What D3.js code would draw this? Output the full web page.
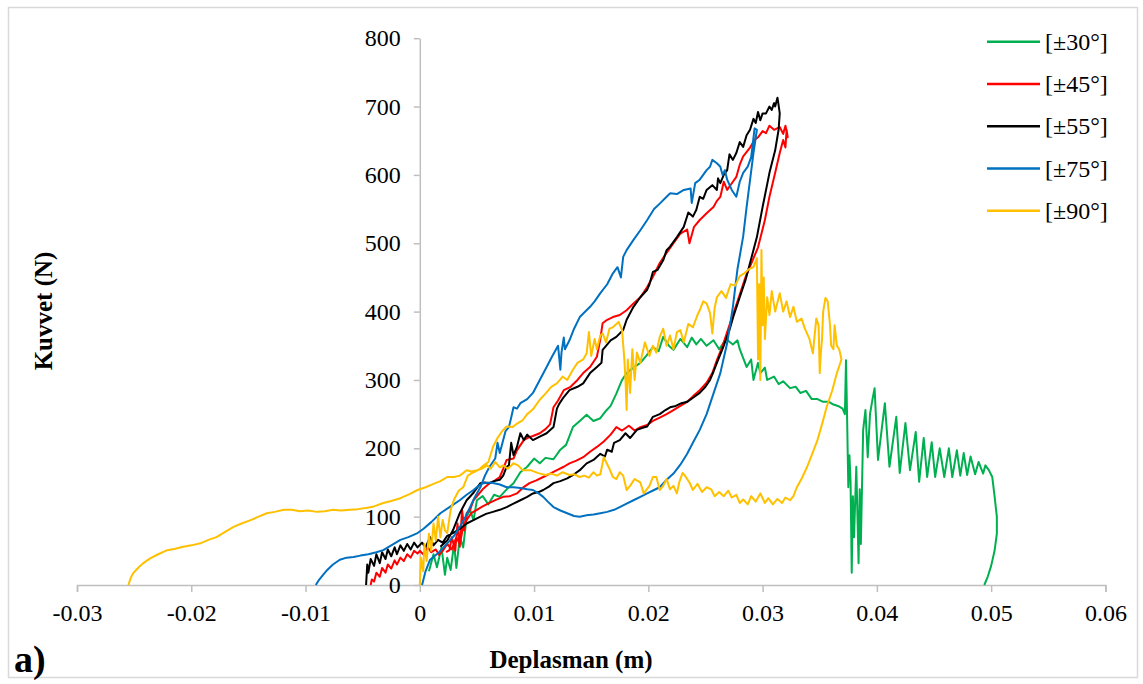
<!DOCTYPE html>
<html>
<head>
<meta charset="utf-8">
<title>Kuvvet - Deplasman</title>
<style>
    body { margin: 0; background: #fff; }
    svg { display: block; font-family: "Liberation Serif", "Times New Roman", serif; }
    .frame { fill: #fff; stroke: #d9d9d9; stroke-width: 1.5px; }
    .axis path, .axis line { stroke: #bfbfbf; stroke-width: 1.5px; }
    .axis text { font-size: 24px; fill: #000; font-family: "Liberation Serif", serif; }
    .series { fill: none; stroke-width: 2px; stroke-linejoin: round; }
    .title { font-size: 25px; font-weight: bold; }
    .legend text { font-size: 24px; }
</style>
</head>
<body>
<svg id="container" width="1143" height="684"></svg>
<script src="https://cdn.jsdelivr.net/npm/d3@7"></script>
<script>
// series names and colours (legend order = drawing order)
const names = ["[±30°]", "[±45°]", "[±55°]", "[±75°]", "[±90°]"]
const colors = ["#00b050", "#ff0000", "#000000", "#0070c0", "#ffc000"]

const xTicks = [-0.03, -0.02, -0.01, 0, 0.01, 0.02, 0.03, 0.04, 0.05, 0.06]
const xTickLabels = ["-0.03", "-0.02", "-0.01", "0", "0.01", "0.02", "0.03", "0.04", "0.05", "0.06"]
const yTicks = [0, 100, 200, 300, 400, 500, 600, 700, 800]

// [deplasman (m), kuvvet (N)]
const s30 = [[0.0008,20],[0.0012,45],[0.0015,26],[0.0019,55],[0.0022,15],[0.0024,40],[0.0027,22],[0.0030,60],[0.0032,25],[0.0035,70],[0.0038,55],[0.0041,100],[0.0044,110],[0.0047,95],[0.005,124],[0.0055,130],[0.006,118],[0.0065,132],[0.007,129],[0.0076,140],[0.0082,149],[0.0088,165],[0.0094,173],[0.01,185],[0.0105,178],[0.011,186],[0.0117,184],[0.0123,198],[0.0128,205],[0.0134,231],[0.014,240],[0.0146,249],[0.0152,240],[0.0158,244],[0.0163,255],[0.0167,262],[0.0172,280],[0.0177,300],[0.0181,310],[0.0187,318],[0.0193,325],[0.0198,335],[0.0204,348],[0.0209,342],[0.0213,363],[0.0218,350],[0.0222,344],[0.0228,360],[0.0234,348],[0.0238,362],[0.0242,352],[0.0246,360],[0.0251,350],[0.0257,358],[0.0262,345],[0.0268,360],[0.0274,352],[0.0278,358],[0.028,345],[0.0286,319],[0.029,330],[0.0292,300],[0.0296,325],[0.0298,310],[0.0302,318],[0.0304,300],[0.031,305],[0.0314,294],[0.0318,298],[0.0324,288],[0.0329,290],[0.0333,281],[0.0338,284],[0.0343,272],[0.0348,272],[0.0353,268],[0.0358,268],[0.0362,264],[0.0366,262],[0.037,258],[0.0372,250],[0.0373,329],[0.0374,240],[0.0375,143],[0.0376,190],[0.0377,150],[0.0378,18],[0.0379,130],[0.038,70],[0.0382,173],[0.0384,32],[0.0385,140],[0.0386,60],[0.0388,227],[0.039,256],[0.0392,187],[0.0394,250],[0.0396,270],[0.0398,288],[0.0401,183],[0.0407,266],[0.0411,173],[0.0417,246],[0.042,164],[0.0425,237],[0.0429,168],[0.0434,224],[0.0437,151],[0.0441,215],[0.0444,158],[0.0448,209],[0.0451,158],[0.0455,200],[0.0459,158],[0.0463,200],[0.0466,158],[0.047,197],[0.0473,160],[0.0476,193],[0.0479,161],[0.0482,188],[0.0486,162],[0.0489,180],[0.0493,163],[0.0495,175],[0.0498,168],[0.0501,158],[0.0503,130],[0.0505,100],[0.0505,75],[0.0503,50],[0.05,28],[0.0497,12],[0.0494,0]]

const s45 = [[-0.0043,0],[-0.0042,8],[-0.004,5],[-0.0038,18],[-0.0035,12],[-0.0033,25],[-0.003,18],[-0.0028,30],[-0.0025,24],[-0.0022,36],[-0.002,30],[-0.0017,40],[-0.0014,35],[-0.0011,45],[-0.0008,40],[-0.0005,50],[-0.0002,46],[0,50],[0.0003,45],[0.0007,55],[0.001,48],[0.0014,52],[0.0017,44],[0.002,50],[0.0024,60],[0.0028,52],[0.0032,70],[0.0035,60],[0.0038,85],[0.0041,95],[0.0045,105],[0.005,110],[0.0055,115],[0.0061,120],[0.0067,125],[0.0073,129],[0.0079,130],[0.0085,134],[0.009,142],[0.0096,149],[0.0102,153],[0.0108,158],[0.0114,163],[0.012,168],[0.0126,173],[0.0131,178],[0.0137,182],[0.0143,187],[0.0149,195],[0.0155,202],[0.0161,210],[0.0167,220],[0.0172,231],[0.0177,226],[0.0183,233],[0.0188,226],[0.0193,231],[0.0199,234],[0.0204,240],[0.021,245],[0.0216,250],[0.0222,256],[0.0228,262],[0.0234,268],[0.0239,276],[0.0245,285],[0.0251,296],[0.0256,310],[0.026,329],[0.0265,350],[0.027,375],[0.0275,400],[0.028,425],[0.0285,450],[0.029,470],[0.0296,494],[0.0302,534],[0.0306,568],[0.0311,603],[0.0315,632],[0.0318,651],[0.032,640],[0.0321,666],[0.0322,655],[0.032,672],[0.0318,660],[0.0315,670],[0.031,666],[0.0306,672],[0.0303,661],[0.03,664],[0.0296,655],[0.0293,651],[0.0289,640],[0.0283,627],[0.028,615],[0.0277,597],[0.0274,590],[0.0269,578],[0.0266,590],[0.0264,575],[0.0263,568],[0.026,562],[0.0257,553],[0.0251,544],[0.0245,534],[0.024,524],[0.0236,500],[0.0234,520],[0.0228,514],[0.0222,500],[0.0216,486],[0.021,471],[0.0204,451],[0.0199,436],[0.0193,421],[0.0187,412],[0.0181,402],[0.0175,395],[0.0169,392],[0.0164,388],[0.016,383],[0.0158,360],[0.0155,334],[0.0149,319],[0.0143,310],[0.0138,300],[0.0132,290],[0.0126,285],[0.0121,270],[0.0117,260],[0.0114,235],[0.011,228],[0.0105,222],[0.0099,218],[0.0094,215],[0.0091,212],[0.0085,197],[0.0082,185],[0.0076,183],[0.0073,170],[0.007,158],[0.0065,152],[0.0061,149],[0.0055,140],[0.0047,124],[0.0044,110],[0.0041,105],[0.0039,80],[0.0037,110],[0.0035,56],[0.0033,90],[0.0031,50],[0.0028,70],[0.0026,51],[0.0023,48]]

const s55 = [[-0.0047,0],[-0.0046,30],[-0.0045,18],[-0.0043,38],[-0.004,28],[-0.0038,45],[-0.0035,32],[-0.0033,48],[-0.003,38],[-0.0028,52],[-0.0025,42],[-0.0022,55],[-0.002,45],[-0.0017,58],[-0.0014,50],[-0.0011,60],[-0.0008,52],[-0.0005,62],[-0.0002,55],[0.0002,62],[0.0005,55],[0.0009,70],[0.0012,58],[0.0016,66],[0.002,62],[0.0024,72],[0.0029,76],[0.0035,82],[0.0041,90],[0.0047,95],[0.0053,100],[0.0058,104],[0.0064,107],[0.007,110],[0.0076,114],[0.0082,119],[0.0088,124],[0.0094,129],[0.0099,134],[0.0104,136],[0.0108,139],[0.0113,144],[0.0117,149],[0.0123,152],[0.0129,156],[0.0135,162],[0.014,168],[0.0146,178],[0.0152,183],[0.0158,192],[0.0162,188],[0.0164,198],[0.0168,195],[0.017,208],[0.0175,212],[0.018,222],[0.0184,215],[0.019,227],[0.0195,230],[0.0199,232],[0.0204,246],[0.021,250],[0.0215,256],[0.0219,260],[0.0224,262],[0.0229,266],[0.0234,268],[0.024,275],[0.0245,281],[0.025,290],[0.0254,300],[0.0257,312],[0.026,325],[0.0266,350],[0.0271,373],[0.0275,396],[0.028,421],[0.0285,446],[0.0289,471],[0.0295,509],[0.03,553],[0.0306,603],[0.0311,636],[0.0314,666],[0.0315,690],[0.0314,702],[0.0313,713],[0.0311,700],[0.031,705],[0.0308,695],[0.0306,700],[0.0303,690],[0.03,690],[0.0298,680],[0.0296,692],[0.0294,676],[0.0292,682],[0.0289,666],[0.0286,658],[0.0283,641],[0.028,648],[0.0277,632],[0.0274,622],[0.0271,630],[0.0269,607],[0.0266,600],[0.0263,588],[0.0261,595],[0.026,578],[0.0256,585],[0.0251,578],[0.0248,565],[0.0245,568],[0.0242,549],[0.0239,539],[0.0235,545],[0.0231,524],[0.0225,509],[0.0219,495],[0.0216,490],[0.0213,475],[0.0208,461],[0.0204,458],[0.0201,440],[0.0199,432],[0.0193,421],[0.0187,407],[0.0181,388],[0.0178,373],[0.0172,363],[0.0167,358],[0.0163,350],[0.016,344],[0.0159,325],[0.0155,319],[0.0149,310],[0.0143,295],[0.0138,290],[0.0131,285],[0.0126,275],[0.0122,265],[0.012,258],[0.0118,240],[0.0117,231],[0.0111,222],[0.0105,217],[0.0099,212],[0.0094,220],[0.0091,212],[0.0088,222],[0.0085,202],[0.0082,190],[0.008,208],[0.0078,175],[0.0076,173],[0.0073,160],[0.007,154],[0.0065,152],[0.0061,149],[0.0057,150],[0.0053,149],[0.0047,135],[0.0041,124],[0.0035,105],[0.0029,80],[0.0024,65],[0.0018,56]]

const s75 = [[-0.0091,0],[-0.0088,8],[-0.0085,14],[-0.0081,22],[-0.0076,30],[-0.007,37],[-0.0064,40],[-0.0058,41],[-0.0052,43],[-0.0045,45],[-0.0038,48],[-0.0032,51],[-0.0025,58],[-0.0017,66],[-0.001,70],[-0.0002,76],[0.0003,82],[0.001,92],[0.0018,105],[0.0026,114],[0.0035,124],[0.0041,132],[0.0047,139],[0.0052,146],[0.0056,149],[0.0062,150],[0.007,147],[0.0076,143],[0.0082,143],[0.0088,142],[0.0094,140],[0.0099,139],[0.0104,134],[0.0108,129],[0.0112,122],[0.0117,114],[0.0123,109],[0.0129,105],[0.0135,101],[0.014,100],[0.0146,102],[0.0152,103],[0.0158,105],[0.0164,107],[0.017,110],[0.0175,114],[0.0181,119],[0.0187,124],[0.0193,129],[0.0199,134],[0.0205,139],[0.021,143],[0.0216,154],[0.0222,163],[0.0228,176],[0.0234,192],[0.0239,208],[0.0245,227],[0.0251,250],[0.0257,280],[0.0263,310],[0.0269,354],[0.0274,407],[0.0278,462],[0.0283,510],[0.0286,553],[0.0292,632],[0.0295,666],[0.0293,668],[0.0291,640],[0.029,626],[0.0287,612],[0.0283,603],[0.028,590],[0.0277,568],[0.0273,578],[0.0269,593],[0.0267,607],[0.0265,600],[0.0263,612],[0.026,617],[0.0256,622],[0.0254,612],[0.0251,607],[0.0248,600],[0.0245,593],[0.0241,588],[0.0238,559],[0.0237,580],[0.0231,578],[0.0225,572],[0.0219,573],[0.0216,568],[0.021,558],[0.0205,550],[0.0199,534],[0.0193,519],[0.0187,505],[0.0181,490],[0.0178,480],[0.0176,450],[0.0173,465],[0.0169,456],[0.0164,440],[0.0158,427],[0.0153,415],[0.0149,407],[0.014,392],[0.0135,375],[0.0131,358],[0.0127,345],[0.0126,362],[0.0124,340],[0.0123,315],[0.0121,350],[0.0116,335],[0.0111,319],[0.0105,300],[0.0099,281],[0.0094,272],[0.0088,266],[0.0085,258],[0.0082,260],[0.008,245],[0.0078,231],[0.0075,225],[0.0073,212],[0.007,193],[0.0068,208],[0.0066,185],[0.0061,173],[0.0057,160],[0.0053,143],[0.0048,128],[0.0044,114],[0.004,100],[0.0035,85],[0.003,72],[0.0024,61],[0.0017,48],[0.0009,37],[0.0005,20],[0.0002,0]]

const s90 = [[0,0],[0.0001,40],[0.0003,20],[0.0004,60],[0.0006,35],[0.0008,75],[0.001,50],[0.0012,90],[0.0014,65],[0.0016,100],[0.0018,70],[0.002,95],[0.0022,80],[0.0024,76],[0.0027,110],[0.003,125],[0.0034,138],[0.0038,143],[0.0042,160],[0.0047,165],[0.0051,168],[0.0056,175],[0.006,180],[0.0064,202],[0.0068,215],[0.0072,225],[0.0076,232],[0.0081,231],[0.0085,236],[0.009,241],[0.0094,250],[0.0099,257],[0.0105,271],[0.011,280],[0.0115,290],[0.012,295],[0.0125,305],[0.0129,300],[0.0134,315],[0.0138,325],[0.0143,330],[0.0146,339],[0.0148,370],[0.015,335],[0.0153,360],[0.0155,345],[0.0158,365],[0.016,368],[0.0163,355],[0.0166,375],[0.0169,377],[0.0174,385],[0.0177,373],[0.0179,330],[0.018,300],[0.0181,256],[0.0182,330],[0.0184,281],[0.0186,345],[0.0188,300],[0.019,340],[0.0193,325],[0.0197,355],[0.0201,335],[0.0204,350],[0.0207,340],[0.021,363],[0.0213,375],[0.0216,350],[0.0219,365],[0.0222,345],[0.0225,370],[0.0228,373],[0.0231,355],[0.0235,382],[0.0239,377],[0.0243,395],[0.0245,402],[0.0248,415],[0.0251,412],[0.0254,398],[0.0256,368],[0.0258,405],[0.026,421],[0.0264,430],[0.0268,420],[0.0272,440],[0.0276,438],[0.028,452],[0.0284,456],[0.0288,462],[0.0292,465],[0.0295,478],[0.0296,330],[0.0297,440],[0.0298,300],[0.0299,490],[0.03,380],[0.0301,450],[0.0302,360],[0.0304,421],[0.0306,395],[0.0308,430],[0.0311,400],[0.0315,427],[0.0318,400],[0.0321,415],[0.0324,392],[0.0327,407],[0.033,385],[0.0334,390],[0.0337,375],[0.0341,360],[0.0344,339],[0.0347,390],[0.0349,380],[0.035,310],[0.0351,340],[0.0352,360],[0.0353,400],[0.0355,420],[0.0357,415],[0.0359,380],[0.036,350],[0.0362,345],[0.0363,380],[0.0365,350],[0.0367,345],[0.0368,338],[0.0369,330],[0.0365,310],[0.0361,285],[0.0356,260],[0.0352,235],[0.0348,212],[0.0343,190],[0.0339,173],[0.0334,155],[0.033,143],[0.0327,130],[0.0324,124],[0.032,128],[0.0317,120],[0.0313,126],[0.0309,118],[0.0305,127],[0.0302,120],[0.0298,134],[0.0294,122],[0.029,130],[0.0287,118],[0.0283,125],[0.028,120],[0.0277,132],[0.0273,128],[0.027,138],[0.0266,130],[0.0262,136],[0.0258,130],[0.0255,140],[0.0251,143],[0.0247,136],[0.0243,148],[0.0239,139],[0.0236,150],[0.0232,160],[0.023,164],[0.0227,150],[0.0225,134],[0.0222,145],[0.0219,140],[0.0216,155],[0.0213,145],[0.021,139],[0.0207,158],[0.0204,158],[0.0201,145],[0.0196,134],[0.0193,150],[0.0188,155],[0.0184,145],[0.0181,139],[0.0178,160],[0.0175,165],[0.0172,155],[0.0169,158],[0.0166,170],[0.0163,180],[0.0161,187],[0.0158,162],[0.0155,160],[0.0152,165],[0.0148,157],[0.0144,160],[0.014,158],[0.0135,162],[0.0131,161],[0.0125,165],[0.012,160],[0.0115,163],[0.011,161],[0.0103,164],[0.0097,168],[0.009,168],[0.0086,175],[0.0082,178],[0.0077,170],[0.0073,175],[0.007,172],[0.0066,180],[0.0062,170],[0.0059,175],[0.0054,170],[0.005,168],[0.0045,166],[0.0041,168],[0.0035,160],[0.003,158],[0.0024,158],[0.0018,152],[0.0012,148],[0.0005,143],[-0.0002,139],[-0.0009,133],[-0.0017,127],[-0.0025,123],[-0.0032,120],[-0.004,115],[-0.0046,113],[-0.0054,111],[-0.0061,110],[-0.0069,109],[-0.0076,110],[-0.0083,108],[-0.009,107],[-0.0098,109],[-0.0105,108],[-0.0112,110],[-0.0119,110],[-0.0127,107],[-0.0134,105],[-0.0141,100],[-0.0148,95],[-0.0156,90],[-0.0163,85],[-0.017,78],[-0.0178,70],[-0.0185,66],[-0.0192,61],[-0.02,58],[-0.0207,56],[-0.0214,53],[-0.0221,51],[-0.0229,45],[-0.0236,39],[-0.0242,32],[-0.0246,26],[-0.0251,17],[-0.0253,10],[-0.0255,0]]

const seriesData = [s30, s45, s55, s75, s90]

let svg = d3.select("#container")

// outer chart frame
svg.append("rect").attr("class", "frame")
    .attr("x", 8.5).attr("y", 7.5).attr("width", 1129).attr("height", 670)

let xScale = d3.scaleLinear().domain([-0.03, 0.06]).range([77, 1105.4])
let yScale = d3.scaleLinear().domain([0, 800]).range([585, 38.2])

// x axis sits on y = 0
let xAxis = svg.append("g").attr("class", "axis")
    .attr("transform", `translate(0, ${yScale(0)})`)
    .call(d3.axisBottom(xScale)
        .tickValues(xTicks)
        .tickSize(7)
        .tickSizeOuter(7)
        .tickPadding(12)
        .tickFormat((d, i) => xTickLabels[i]))

// y axis sits on x = 0
let yAxis = svg.append("g").attr("class", "axis")
    .attr("transform", `translate(${xScale(0)}, 0)`)
    .call(d3.axisLeft(yScale)
        .tickValues(yTicks)
        .tickSize(6)
        .tickSizeOuter(0)
        .tickPadding(13)
        .tickFormat(d3.format("d")))

// data lines
let line = d3.line()
    .x(d => xScale(d[0]))
    .y(d => yScale(d[1]))

svg.append("g").selectAll("path")
    .data(seriesData)
    .join("path")
    .attr("class", "series")
    .attr("stroke", (d, i) => colors[i])
    .attr("d", line)

// axis titles
svg.append("text").attr("class", "title")
    .attr("transform", "translate(52, 311) rotate(-90)")
    .attr("text-anchor", "middle")
    .text("Kuvvet (N)")

svg.append("text").attr("class", "title")
    .attr("x", 571).attr("y", 668)
    .attr("text-anchor", "middle")
    .text("Deplasman (m)")

svg.append("text")
    .attr("x", 14).attr("y", 672)
    .style("font-size", "38px").style("font-weight", "bold")
    .text("a)")

// legend
let legend = svg.append("g").attr("class", "legend")
    .selectAll("g")
    .data(names)
    .join("g")
    .attr("transform", (d, i) => `translate(987, ${41.7 + i * 42.25})`)

legend.append("line")
    .attr("x1", 0).attr("x2", 53)
    .attr("stroke", (d, i) => colors[i])
    .attr("stroke-width", 2.5)

legend.append("text")
    .attr("x", 58).attr("dy", "0.34em")
    .text(d => d)
</script>
</body>
</html>
